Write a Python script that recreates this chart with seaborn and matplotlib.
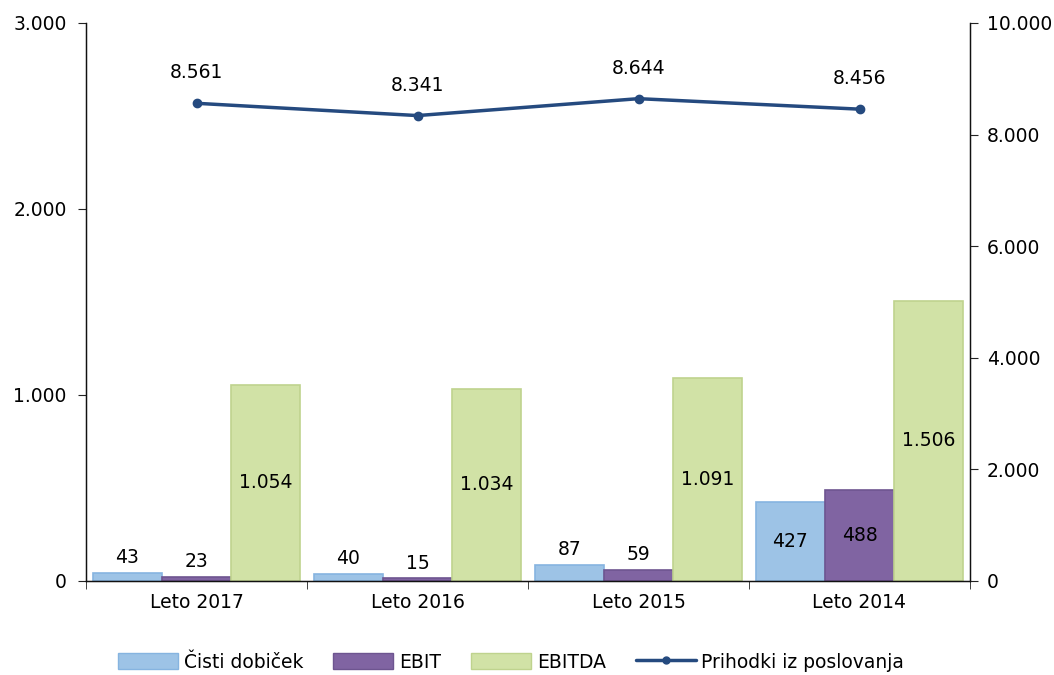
import matplotlib
matplotlib.use("Agg")
import matplotlib.pyplot as plt
import matplotlib.ticker as mticker
from matplotlib.lines import Line2D
from matplotlib.patches import Patch
import seaborn as sns
import pandas as pd

years = ["Leto 2017", "Leto 2016", "Leto 2015", "Leto 2014"]
cisti = [43, 40, 87, 427]
ebit = [23, 15, 59, 488]
ebitda = [1054, 1034, 1091, 1506]
prihodki = [8561, 8341, 8644, 8456]
series_names = ["Čisti dobiček", "EBIT", "EBITDA"]
line_name = "Prihodki iz poslovanja"

colors = ["#9DC3E6", "#8064A2", "#D1E2A6"]
edges = ["#86B4E0", "#6E5590", "#BFD38E"]
line_color = "#254A7F"

sns.set_style("white")
plt.rcParams['font.family'] = ['DejaVu Sans']
plt.rcParams['text.color'] = 'black'
plt.rcParams['xtick.color'] = 'black'
plt.rcParams['ytick.color'] = 'black'
FS = 13.5

df = pd.DataFrame({
    "year": years * 3,
    "value": cisti + ebit + ebitda,
    "series": [series_names[0]] * 4 + [series_names[1]] * 4 + [series_names[2]] * 4,
})

fig = plt.figure(figsize=(10.54, 6.75), dpi=100)
ax = fig.add_axes([86 / 1054, 1 - 581 / 675, (970 - 86) / 1054, (581 - 23) / 675])

sns.barplot(data=df, x="year", y="value", hue="series", order=years,
            hue_order=series_names, palette=colors, width=0.94, ax=ax,
            legend=False, saturation=1)

def fmt(v):
    return f"{v:,.0f}".replace(",", ".")

for cont, ec in zip(ax.containers, edges):
    for bar in cont:
        bar.set_edgecolor(ec)
        bar.set_linewidth(1.2)
    vals = [b.get_height() for b in cont]
    small = [fmt(v) if v < 200 else "" for v in vals]
    big = [fmt(v) if v >= 200 else "" for v in vals]
    ax.bar_label(cont, labels=small, padding=4, fontsize=FS, color="black")
    ax.bar_label(cont, labels=big, label_type="center", fontsize=FS, color="black")

ax.set_ylim(0, 3000)
ax.set_xlim(-0.5, 3.5)
ax.set_yticks([0, 1000, 2000, 3000])
ax.yaxis.set_major_formatter(mticker.FuncFormatter(lambda v, p: fmt(v)))
ax.set_xlabel("")
ax.set_ylabel("")
ax.tick_params(axis="y", labelsize=FS, length=6, pad=8, direction="out", left=True, color="#222222")
ax.tick_params(axis="x", labelsize=FS, length=0, pad=9)
ax.set_xticks([-0.5, 0.5, 1.5, 2.5, 3.5], minor=True)
ax.tick_params(axis="x", which="minor", length=6, bottom=True, color="#222222")
ax.spines["top"].set_visible(False)
for s in ["left", "bottom", "right"]:
    ax.spines[s].set_color("#111111")
    ax.spines[s].set_linewidth(1.0)

ax2 = ax.twinx()
xs = list(range(len(years)))
ax2.plot(xs, prihodki, color=line_color, lw=2.5, marker="o", ms=6, zorder=5)
for x, v in zip(xs, prihodki):
    ax2.annotate(fmt(v), (x, v), xytext=(0, 15), textcoords="offset points",
                 ha="center", va="bottom", fontsize=FS, color="black")
ax2.set_ylim(0, 10000)
ax2.set_yticks(range(0, 10001, 2000))
ax2.yaxis.set_major_formatter(mticker.FuncFormatter(lambda v, p: fmt(v)))
ax2.tick_params(axis="y", labelsize=FS, length=6, pad=6, direction="out", right=True, color="#222222")
ax2.spines["top"].set_visible(False)
for s in ["left", "bottom", "right"]:
    ax2.spines[s].set_color("#111111")

handles = [Patch(facecolor=c, edgecolor=e, label=n) for c, e, n in zip(colors, edges, series_names)]
handles.append(Line2D([0], [0], color=line_color, lw=2.5, marker="o", ms=5, label=line_name))
fig.legend(handles=handles, loc="center", bbox_to_anchor=(0.485, 1 - 662 / 675), ncol=4,
           frameon=False, fontsize=FS, handlelength=3.2, handleheight=0.9,
           columnspacing=1.6, handletextpad=0.3)

fig.savefig("out.png", dpi=100)
